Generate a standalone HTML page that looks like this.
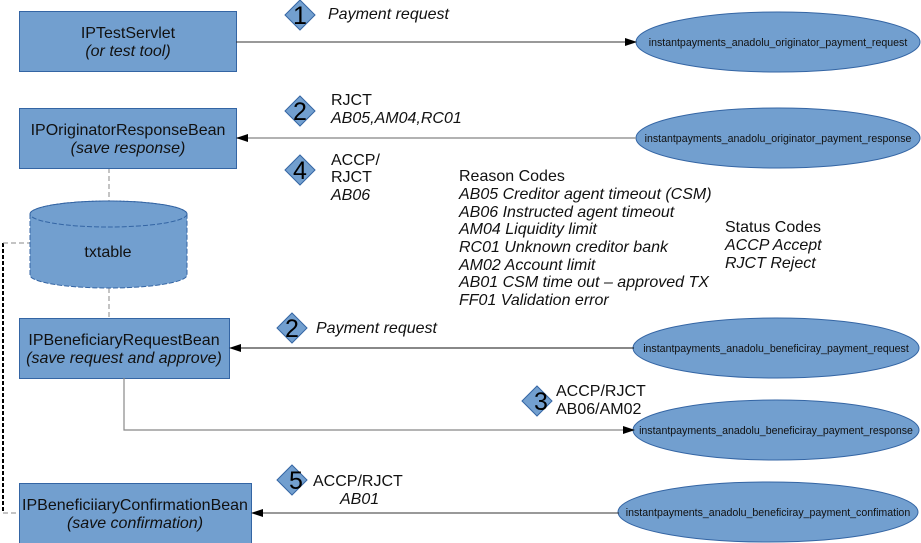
<!DOCTYPE html>
<html><head><meta charset="utf-8"><style>
html,body{margin:0;padding:0;background:#fff;width:921px;height:543px;overflow:hidden}
svg{display:block;font-family:"Liberation Sans",sans-serif}
</style></head><body>
<svg width="921" height="543" viewBox="0 0 921 543" xmlns="http://www.w3.org/2000/svg">
<defs>
<marker id="ah" markerWidth="12" markerHeight="8" refX="11" refY="4" orient="auto" markerUnits="userSpaceOnUse"><path d="M0,0 L12,4 L0,8 z" fill="#000"/></marker>
</defs>
<line x1="3" y1="243" x2="3" y2="513" stroke="#000" stroke-width="2" stroke-dasharray="4,2"/>
<line x1="3" y1="243" x2="30" y2="243" stroke="#888" stroke-dasharray="5,3"/>
<line x1="3" y1="513" x2="19" y2="513" stroke="#888" stroke-dasharray="5,3"/>
<line x1="109" y1="168" x2="109" y2="201" stroke="#888" stroke-dasharray="5,3"/>
<line x1="109" y1="288" x2="109" y2="318" stroke="#888" stroke-dasharray="5,3"/>
<g fill="#729fcf" stroke="#3465a4" stroke-width="1">
<rect x="19.5" y="11.5" width="217" height="60"/>
<rect x="19.5" y="108.5" width="217" height="60"/>
<rect x="19.5" y="318.5" width="210" height="60"/>
<rect x="19.5" y="483.5" width="232" height="62"/>
</g>
<path d="M30,214 L30,275 A78.5,13 0 0 0 187,275 L187,214 A78.5,13 0 0 0 30,214 Z" fill="#729fcf" stroke="#3465a4" stroke-dasharray="5,2"/>
<ellipse cx="108.5" cy="214" rx="78.5" ry="13" fill="none" stroke="#3465a4" stroke-dasharray="5,2"/>
<text x="108" y="257" font-size="16" text-anchor="middle" fill="#111">txtable</text>
<g fill="#729fcf" stroke="#3465a4">
<ellipse cx="778" cy="42" rx="142" ry="30"/>
<ellipse cx="778" cy="138" rx="142" ry="30"/>
<ellipse cx="776" cy="348" rx="143" ry="30"/>
<ellipse cx="776" cy="430" rx="143" ry="30"/>
<ellipse cx="768" cy="512" rx="150" ry="30"/>
</g>
<g font-size="10.6" fill="#111" text-anchor="middle">
<text x="778" y="46">instantpayments_anadolu_originator_payment_request</text>
<text x="778" y="142">instantpayments_anadolu_originator_payment_response</text>
<text x="776" y="352">instantpayments_anadolu_beneficiray_payment_request</text>
<text x="776" y="434">instantpayments_anadolu_beneficiray_payment_response</text>
<text x="768" y="516">instantpayments_anadolu_beneficiray_payment_confimation</text>
</g>
<line x1="236" y1="42" x2="636" y2="42" stroke="#333" marker-end="url(#ah)"/>
<line x1="636" y1="138" x2="237" y2="138" stroke="#999" stroke-width="1.5" marker-end="url(#ah)"/>
<line x1="634" y1="348" x2="230" y2="348" stroke="#111" marker-end="url(#ah)"/>
<polyline points="124,378 124,430 634,430" fill="none" stroke="#888" stroke-width="1.2" marker-end="url(#ah)"/>
<line x1="619" y1="513" x2="252" y2="513" stroke="#333" marker-end="url(#ah)"/>
<g font-size="16" fill="#111" text-anchor="middle">
<text x="128" y="38">IPTestServlet</text>
<text x="128" y="56" font-style="italic">(or test tool)</text>
<text x="128" y="135">IPOriginatorResponseBean</text>
<text x="128" y="153" font-style="italic">(save response)</text>
<text x="124" y="345">IPBeneficiaryRequestBean</text>
<text x="124" y="363" font-style="italic">(save request and approve)</text>
<text x="135" y="510">IPBeneficiiaryConfirmationBean</text>
<text x="135" y="528" font-style="italic">(save confirmation)</text>
</g>
<g fill="#729fcf" stroke="#3465a4">
<path d="M300,0 L315,15 L300,30 L285,15 Z"/>
<path d="M300,96 L315,111 L300,126 L285,111 Z"/>
<path d="M300,155 L315,170 L300,185 L285,170 Z"/>
<path d="M292,313 L307,328 L292,343 L277,328 Z"/>
<path d="M537,386 L552,401 L537,416 L522,401 Z"/>
<path d="M292,465 L307,480 L292,495 L277,480 Z"/>
</g>
<g font-size="25" fill="#000" text-anchor="middle">
<text x="300" y="24">1</text>
<text x="300" y="120">2</text>
<text x="300" y="179">4</text>
<text x="292" y="337">2</text>
<text x="541" y="410">3</text>
<text x="296" y="489">5</text>
</g>
<g font-size="16" fill="#111">
<text x="328" y="19" font-style="italic">Payment request</text>
<text x="331" y="105">RJCT</text>
<text x="331" y="123" font-style="italic">AB05,AM04,RC01</text>
<text x="331" y="165">ACCP/</text>
<text x="331" y="182">RJCT</text>
<text x="331" y="200" font-style="italic">AB06</text>
<text x="316" y="333" font-style="italic">Payment request</text>
<text x="556" y="396">ACCP/RJCT</text>
<text x="556" y="414">AB06/AM02</text>
<text x="313" y="486">ACCP/RJCT</text>
<text x="340" y="504" font-style="italic">AB01</text>
<text x="459" y="181">Reason Codes</text>
<g font-style="italic">
<text x="459" y="199">AB05 Creditor agent timeout (CSM)</text>
<text x="459" y="217">AB06 Instructed agent timeout</text>
<text x="459" y="234">AM04 Liquidity limit</text>
<text x="459" y="252">RC01 Unknown creditor bank</text>
<text x="459" y="270">AM02 Account limit</text>
<text x="459" y="287">AB01 CSM time out – approved TX</text>
<text x="459" y="305">FF01 Validation error</text>
</g>
<text x="725" y="232">Status Codes</text>
<text x="725" y="250" font-style="italic">ACCP Accept</text>
<text x="725" y="268" font-style="italic">RJCT Reject</text>
</g>
</svg>
</body></html>
